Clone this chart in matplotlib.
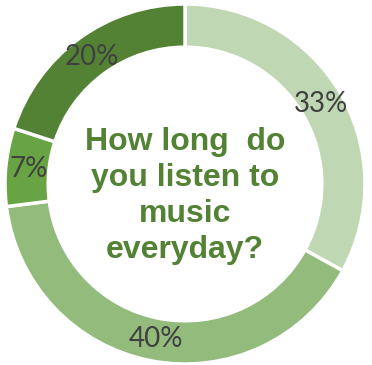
import matplotlib
matplotlib.use('Agg')
from matplotlib import pyplot as plt

# share of answers, clockwise from 12 o'clock
shares = [33, 40, 7, 20]
colors = ['#c0d7b4', '#93bb7c', '#69a444', '#548235']
question = 'How long  do\nyou listen to\nmusic\neveryday?'

fig = plt.figure(figsize=(3.72, 3.65), dpi=100)
ax = fig.add_axes([0, 0, 1, 1])

# work in pixel units so the ring lands where it should
outer = 180
wedges, texts, pcts = ax.pie(
    shares,
    colors=colors,
    radius=outer,
    startangle=90,
    counterclock=False,
    autopct='%.0f%%',
    pctdistance=0.875,
    wedgeprops=dict(width=outer * 0.24, edgecolor='white', linewidth=2.5),
    textprops=dict(color='#404040', fontsize=20, family='Lato'),
)

ax.text(0, -12, question, ha='center', va='center', fontsize=23,
        fontweight='bold', color='#548235', family='Liberation Sans',
        linespacing=1.25)

ax.set_xlim(-185, 187)
ax.set_ylim(-181, 184)
ax.set_aspect('equal')
ax.axis('off')

fig.savefig('out.png', dpi=100)
